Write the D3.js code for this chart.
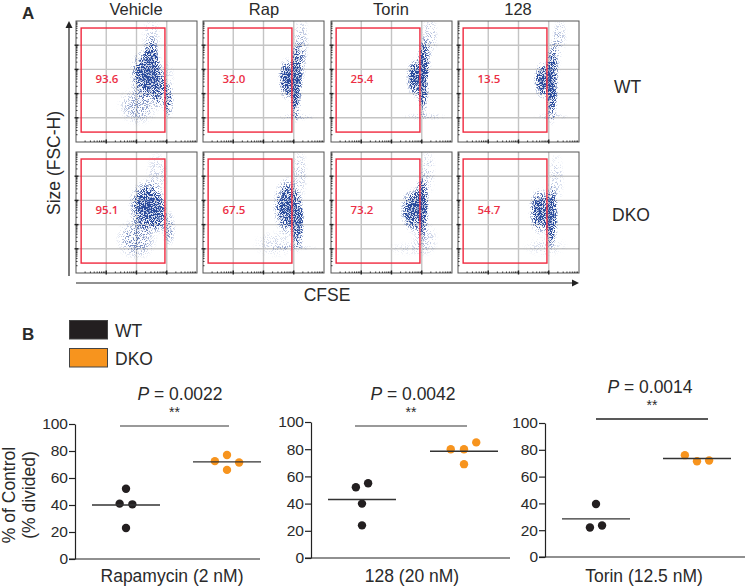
<!DOCTYPE html>
<html><head><meta charset="utf-8">
<script src="https://cdn.jsdelivr.net/npm/d3@7"></script>
<style>html,body{margin:0;padding:0;background:#fff}svg{display:block}text{font-family:"Liberation Sans",Arial,sans-serif;fill:#2a2a2a}</style>
</head><body><svg id="c" width="748" height="587"></svg>
<script>
// ---- Panel A: flow cytometry ----
const treatments = ["Vehicle","Rap","Torin","128"];
const genotypesA = ["WT","DKO"];
const gatePercentWT  = ["93.6","32.0","25.4","13.5"];
const gatePercentDKO = ["95.1","67.5","73.2","54.7"];
const gateBounds = {xMin:0.17, xMax:2.94, yMin:0.41, yMax:4.71}; // decades
const gridDecadesX = [1,2,3];
const gridDecadesY = [1,2,3,4];
// population density clusters: [CFSE decade, FSC decade, spread x, spread y, weight]
const cloudWTVehicle = [[2.35,2.8,.62,1.2,1],[2.48,3.2,.3,1.3,.8],[2.75,2.2,.3,.95,.75],[3.05,1.7,.22,.85,.62],[2.05,1.5,.75,.9,.42],[2.5,4.2,.4,1.1,.26],[3.05,2.6,.25,.9,.2]];
const cloudWTRap = [[3.07,2.45,.24,1.75,1],[2.78,2.6,.33,.95,1],[3.2,3.3,.25,1.2,.42],[3.25,4.2,.32,1.2,.3],[3.1,1.03,.7,.18,.3]];
const cloudWTTorin = [[3.04,2.7,.24,1.8,1],[2.78,2.65,.32,.9,1],[3.15,3.5,.22,1,.36],[3.27,4.4,.32,1,.3],[3.1,1.05,.85,.18,.24]];
const cloudWT128 = [[3.1,2.45,.24,1.85,1],[2.8,2.55,.32,.85,1],[3.25,3.6,.2,1.2,.3],[3.37,4.4,.28,.85,.28],[3.1,1.05,.65,.18,.22]];
const cloudDKOVehicle = [[2.35,2.75,.66,1.2,1],[2.72,2.45,.32,.9,.8],[3.07,1.85,.26,.85,.45],[2.0,1.4,.75,.95,.48],[2.68,4.1,.42,1.05,.24]];
const cloudDKORap = [[2.78,2.75,.5,1.3,1],[3.14,2.1,.24,1.35,.95],[3.2,4.1,.3,1.3,.28],[2.4,1.2,.85,.65,.22],[2.95,1.05,.95,.15,.22]];
const cloudDKOTorin = [[2.7,2.6,.44,1,1],[3.0,2.75,.28,1.5,1],[3.2,4.2,.3,1.2,.25],[3.1,1.4,.5,.8,.28],[2.6,1,.85,.35,.16]];
const cloudDKO128 = [[2.72,2.55,.42,1.05,1],[3.08,2.35,.26,1.45,1],[3.25,3.9,.3,1.3,.26],[2.9,1.1,.85,.5,.2]];
const cloudsWT  = [cloudWTVehicle,cloudWTRap,cloudWTTorin,cloudWT128];
const cloudsDKO = [cloudDKOVehicle,cloudDKORap,cloudDKOTorin,cloudDKO128];

// ---- Panel B: % of control ----
const drugLabels = ["Rapamycin (2 nM)","128 (20 nM)","Torin (12.5 nM)"];
const pValues = ["0.0022","0.0042","0.0014"];
const yTicks = [0,20,40,60,80,100];
const legendLabels = ["WT","DKO"];
const rapWT   = [[1,52],[.937,41],[1.063,40.5],[1,23]];
const rapDKO  = [[2,77],[1.88,72.5],[2.12,71.5],[2,66]];
const rapMeans = [40,72];
const t128WT  = [[.94,52],[1.06,55],[1,40],[1,24]];
const t128DKO = [[1.87,80],[2,80],[2.12,85],[2,69]];
const t128Means = [43,78.5];
const torinWT  = [[1,39.5],[.94,22],[1.06,23.5]];
const torinDKO = [[1.88,76],[2,71.5],[2.12,72]];
const torinMeans = [28.5,73.5];

const svg = d3.select("#c");
const defs = svg.append("defs");
const grad = defs.append("radialGradient").attr("id","blob");
[[0,1],[.45,.82],[.75,.36],[1,0]].forEach(s=>grad.append("stop").attr("offset",s[0]).attr("stop-color","#000").attr("stop-opacity",s[1]));
const f = defs.append("filter").attr("id","speckle").attr("x","-5%").attr("y","-5%").attr("width","110%").attr("height","110%").attr("color-interpolation-filters","sRGB");
f.append("feTurbulence").attr("type","fractalNoise").attr("baseFrequency","1.1").attr("numOctaves",2).attr("seed",4).attr("result","t");
f.append("feColorMatrix").attr("in","t").attr("type","matrix").attr("values","0 0 0 0 0  0 0 0 0 0  0 0 0 0 0  5 0 0 0 -2").attr("result","n");
f.append("feComposite").attr("in","SourceAlpha").attr("in2","n").attr("operator","arithmetic").attr("k1",0).attr("k2",1.35).attr("k3",1).attr("k4",-1).attr("result","m");
const ct=f.append("feComponentTransfer").attr("in","m").attr("result","a");
ct.append("feFuncA").attr("type","gamma").attr("amplitude",1.5).attr("exponent",1.5).attr("offset",0);
f.append("feFlood").attr("flood-color","#2a4b9c").attr("result","fl");
f.append("feComposite").attr("in","fl").attr("in2","a").attr("operator","in");

const panelLefts = [76,203,331,458], panelTops = [21,152], panelW = 121, panelH = 121;
const valueCenters = [31,31,31,31];
[cloudsWT,cloudsDKO].forEach((clouds,r)=>{
  const top = panelTops[r], pcts = r? gatePercentDKO : gatePercentWT;
  treatments.forEach((t,c)=>{
    const left = panelLefts[c];
    const x = d3.scaleLinear().domain([0,4]).range([left,left+panelW]);
    const y = d3.scaleLinear().domain([0,5]).range([top+panelH,top]);
    const g = svg.append("g");
    g.selectAll(".gx").data(gridDecadesX).join("line").attr("x1",x).attr("x2",x).attr("y1",top).attr("y2",top+panelH).attr("stroke","#c4c4c4").attr("stroke-width",1.4);
    g.selectAll(".gy").data(gridDecadesY).join("line").attr("y1",y).attr("y2",y).attr("x1",left).attr("x2",left+panelW).attr("stroke","#c4c4c4").attr("stroke-width",1.4);
    const cid = `clip${r}${c}`;
    defs.append("clipPath").attr("id",cid).append("rect").attr("x",left).attr("y",top).attr("width",panelW).attr("height",panelH);
    g.append("g").attr("clip-path",`url(#${cid})`).append("g").attr("filter","url(#speckle)")
      .selectAll("ellipse").data(clouds[c]).join("ellipse")
      .attr("cx",d=>x(d[0])).attr("cy",d=>y(d[1]))
      .attr("rx",d=>x(d[2])-x(0)).attr("ry",d=>y(0)-y(d[3]))
      .attr("fill","url(#blob)").attr("opacity",d=>d[4]);
    g.append("rect").attr("x",left).attr("y",top).attr("width",panelW).attr("height",panelH).attr("fill","none").attr("stroke","#555").attr("stroke-width",1);
    const minorOffsets=[2,3,4,5,6,7,8,9].map(v=>Math.log10(v));
    d3.range(4).forEach(dec=>minorOffsets.forEach(o=>g.append("line").attr("x1",x(dec+o)).attr("x2",x(dec+o)).attr("y1",top+panelH).attr("y2",top+panelH-1.5).attr("stroke","#333")));
    d3.range(5).forEach(dec=>minorOffsets.forEach(o=>g.append("line").attr("y1",y(dec+o)).attr("y2",y(dec+o)).attr("x1",left).attr("x2",left+1.5).attr("stroke","#333")));
    gridDecadesX.forEach(v=>g.append("line").attr("x1",x(v)).attr("x2",x(v)).attr("y1",top+panelH+1.5).attr("y2",top+panelH-2.5).attr("stroke","#222").attr("stroke-width",1.4));
    gridDecadesY.forEach(v=>g.append("line").attr("y1",y(v)).attr("y2",y(v)).attr("x1",left-1.5).attr("x2",left+2.5).attr("stroke","#222").attr("stroke-width",1.4));
    g.append("rect").attr("x",x(gateBounds.xMin)).attr("y",y(gateBounds.yMax))
      .attr("width",x(gateBounds.xMax)-x(gateBounds.xMin)).attr("height",y(gateBounds.yMin)-y(gateBounds.yMax))
      .attr("fill","none").attr("stroke","#f0283e").attr("stroke-width",1.4);
    g.append("text").attr("x",left+valueCenters[c]).attr("y",top+62).attr("text-anchor","middle")
      .style("font-family","'Open Sans'").style("font-size","11.5px").style("font-weight","600").style("fill","#ec2f45").text(pcts[c]);
  });
});
const txt=(x,y,s,size,o={})=>{const e=svg.append("text").attr("x",x).attr("y",y).attr("text-anchor",o.anchor||"middle").style("font-size",size+"px");
  if(o.weight)e.style("font-weight",o.weight); if(o.rot)e.attr("transform",`rotate(-90 ${x} ${y})`); e.text(s); return e;};
const titleCenters=[136,264,391,518];
treatments.forEach((t,i)=>txt(titleCenters[i],15,t,16.5));
txt(614,93,genotypesA[0],17.5,{anchor:"start"});
txt(612,221,genotypesA[1],17.5,{anchor:"start"});
txt(22,19,"A",17,{anchor:"start",weight:"bold"});
txt(22,340,"B",17,{anchor:"start",weight:"bold"});
txt(60,163,"Size (FSC-H)",17.5,{rot:true});
txt(327,301,"CFSE",17.5);
svg.append("line").attr("x1",69).attr("x2",69).attr("y1",26).attr("y2",276).attr("stroke","#222").attr("stroke-width",1.2);
svg.append("path").attr("d","M69,21L65.5,28L72.5,28Z").attr("fill","#222");
svg.append("line").attr("x1",76).attr("x2",575).attr("y1",283).attr("y2",283).attr("stroke","#222").attr("stroke-width",1.2);
svg.append("path").attr("d","M579,283L572,279.5L572,286.5Z").attr("fill","#222");
const legendFill=["#231f20","#f7941e"], legendY=[320,348];
legendLabels.forEach((l,i)=>{
  svg.append("rect").attr("x",69.5).attr("y",legendY[i]+.5).attr("width",38).attr("height",18.5).attr("fill",legendFill[i]).attr("stroke","#444").attr("stroke-width",1);
  txt(115,legendY[i]+16.5,l,17.5,{anchor:"start"});
});
const plots=[
 {ox:75,end:260,y0:559,y100:424,cW:126,cD:227,wt:rapWT,dko:rapDKO,m:rapMeans,sig:[120,229,426,"#777"],pc:180,pb:400,sb:417,lab:172,i:0},
 {ox:311,end:510,y0:558,y100:422,cW:362,cD:464,wt:t128WT,dko:t128DKO,m:t128Means,sig:[355,467,426,"#777"],pc:413,pb:400,sb:417,lab:412,i:1},
 {ox:545,end:745,y0:557,y100:423,cW:596,cD:697,wt:torinWT,dko:torinDKO,m:torinMeans,sig:[596,708,419,"#222"],pc:650,pb:393,sb:410,lab:644,i:2}
];
plots.forEach(p=>{
  const y=d3.scaleLinear().domain([0,100]).range([p.y0,p.y100]);
  const x=d3.scaleLinear().domain([1,2]).range([p.cW,p.cD]);
  const ax=svg.append("g").attr("transform",`translate(${p.ox},0)`).call(d3.axisLeft(y).tickValues(yTicks).tickSize(6).tickSizeOuter(0).tickPadding(1));
  ax.selectAll("path,line").attr("stroke","#222").attr("stroke-width",1.2);
  ax.selectAll("text").style("font-size","15.5px").style("font-family","'Liberation Sans'").attr("fill","#2a2a2a");
  svg.append("line").attr("x1",p.ox-6).attr("x2",p.end).attr("y1",y(0)).attr("y2",y(0)).attr("stroke","#222").attr("stroke-width",1.2);
  [p.wt,p.dko].forEach((s,k)=>{
    svg.append("g").selectAll("circle").data(s).join("circle").attr("cx",d=>x(d[0])).attr("cy",d=>y(d[1])).attr("r",4.2).attr("fill",legendFill[k]);
    svg.append("line").attr("x1",x(k+1)-34).attr("x2",x(k+1)+34).attr("y1",y(p.m[k])).attr("y2",y(p.m[k])).attr("stroke","#333").attr("stroke-width",1.3);
  });
  svg.append("line").attr("x1",p.sig[0]).attr("x2",p.sig[1]).attr("y1",p.sig[2]).attr("y2",p.sig[2]).attr("stroke",p.sig[3]).attr("stroke-width",1.3);
  const t=txt(p.pc,p.pb,"",17.5);
  t.append("tspan").style("font-style","italic").text("P");
  t.append("tspan").text(" = "+pValues[p.i]);
  txt(p.sig[0]/2+p.sig[1]/2,p.sb,"**",14);
  txt(p.lab,582,drugLabels[p.i],17.5);
});
txt(15,495,"% of Control",17.5,{rot:true});
txt(35,495,"(% divided)",17.5,{rot:true});
</script></body></html>
